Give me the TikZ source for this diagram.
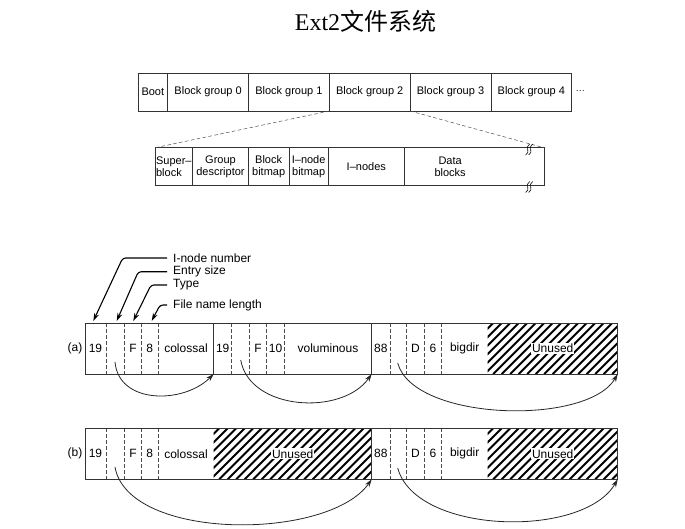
\documentclass[tikz,border=0pt]{standalone}
\usepackage{fontspec}
\setmainfont{Liberation Sans}
\newfontfamily\titlefont{Liberation Serif}
\newfontfamily\cjkfont{Noto Sans CJK SC}
\usetikzlibrary{arrows.meta,positioning,calc}

\tikzset{
  blk/.style={draw=black!80, line width=0.8pt, outer sep=0pt, inner sep=1pt, minimum height=38pt, font=\fontsize{11}{12}\selectfont, align=center},
  sub/.style={blk, minimum height=37.3pt},
  fld/.style={outer sep=0pt, inner sep=0pt, minimum height=51pt, font=\fontsize{12}{14}\selectfont},
  unused/.style={fld, path picture={
      \foreach \k in {-54,-45.5,...,160}
        \draw[line width=2pt] ($(path picture bounding box.south west)+(\k,0)$) -- ++(56,56);
    }},
  tag/.style={fill=white, inner sep=1pt, font=\fontsize{12}{14}\selectfont},
  sep/.style={dash pattern=on 3.5pt off 2.5pt, black!70, line width=0.5pt},
  rim/.style={draw=black!80, line width=0.9pt},
  jump/.style={-{Stealth[length=8pt,width=5pt]}, line width=0.8pt, black!85},
  lead/.style={-{Stealth[length=8pt,width=5pt]}, line width=1.1pt, rounded corners=3pt},
  note/.style={anchor=west, inner xsep=6pt, inner ysep=0pt, font=\fontsize{12}{14}\selectfont},
}

\begin{document}
\begin{tikzpicture}[x=1pt, y=1pt]
  \useasboundingbox (0,0) rectangle (685,-528);

  % title
  \node[font=\fontsize{24}{28}\selectfont] (title) at (365.5,-21) {\titlefont Ext2\cjkfont 文件系统};

  % disk layout
  \node[blk, minimum width=29.7pt, anchor=west] (boot) at (138,-92) {Boot};
  \node[blk, minimum width=80.8pt, right=0pt of boot] (bg0) {Block group 0};
  \node[blk, minimum width=80.8pt, right=0pt of bg0] (bg1) {Block group 1};
  \node[blk, minimum width=80.8pt, right=0pt of bg1] (bg2) {Block group 2};
  \node[blk, minimum width=80.8pt, right=0pt of bg2] (bg3) {Block group 3};
  \node[blk, minimum width=80.8pt, right=0pt of bg3] (bg4) {Block group 4};
  \node[right=4pt of bg4, inner sep=0pt, font=\fontsize{9}{10}\selectfont] (more) {···};

  % one block group
  \node[sub, minimum width=37.7pt, anchor=west, align=left] (sb) at (155,-166.4) {Super–\\block};
  \node[sub, minimum width=55.6pt, right=0pt of sb] (gd) {Group\\descriptor};
  \node[sub, minimum width=40.7pt, right=0pt of gd] (bb) {Block\\bitmap};
  \node[sub, minimum width=39.3pt, right=0pt of bb] (ib) {I–node\\bitmap};
  \node[sub, minimum width=76pt, right=0pt of ib] (in) {I–nodes};
  \node[sub, minimum width=139.7pt, right=0pt of in] (dat) {};
  \node[font=\fontsize{11}{12}\selectfont, align=center] (dtxt) at ($(dat.center)+(-24,0)$) {Data\\blocks};
  \draw[sep] (bg1.south east) -- (sb.north west);
  \draw[sep] (bg2.south east) -- (dat.north east);
  % break marks
  \foreach \y in {-149.5,-187}{
    \draw[line width=0.6pt] (529.7,\y+5.5) .. controls (524.2,\y+2) and (531.2,\y-2) .. (525.7,\y-5.5);
    \draw[line width=0.6pt] (532.7,\y+5.5) .. controls (527.2,\y+2) and (534.2,\y-2) .. (528.7,\y-5.5);
  }

  % (a) directory entries
  \node[fld, minimum width=21pt, anchor=west] (a1) at (85,-348.5) {19};
  \node[fld, minimum width=18.7pt, right=0pt of a1] (a2) {};
  \node[fld, minimum width=16.6pt, right=0pt of a2] (a3) {F};
  \node[fld, minimum width=17pt, right=0pt of a3] (a4) {8};
  \node[fld, minimum width=55.4pt, right=0pt of a4] (a5) {colossal};
  \node[fld, minimum width=18pt, right=0pt of a5] (a6) {19};
  \node[fld, minimum width=17.6pt, right=0pt of a6] (a7) {};
  \node[fld, minimum width=17.4pt, right=0pt of a7] (a8) {F};
  \node[fld, minimum width=17.6pt, right=0pt of a8] (a9) {10};
  \node[fld, minimum width=87.4pt, right=0pt of a9] (a10) {voluminous};
  \node[fld, minimum width=18.3pt, right=0pt of a10] (a11) {88};
  \node[fld, minimum width=16.7pt, right=0pt of a11] (a12) {};
  \node[fld, minimum width=17.6pt, right=0pt of a12] (a13) {D};
  \node[fld, minimum width=17.4pt, right=0pt of a13] (a14) {6};
  \node[fld, minimum width=46pt, right=0pt of a14] (a15) {bigdir};
  \node[unused, minimum width=130pt, right=0pt of a15] (a16) {};
  \node[tag] (a16t) at (a16.center) {Unused};
  \node[left=2.5pt of a1, inner sep=0pt, font=\fontsize{12}{14}\selectfont] (taga) {(a)};
  \foreach \c in {a1,a2,a3,a4,a6,a7,a8,a9,a11,a12,a13,a14}
    \draw[sep] (\c.north east) -- (\c.south east);
  \draw[rim] (a5.north east) -- (a5.south east);
  \draw[rim] (a10.north east) -- (a10.south east);
  \draw[rim] (a1.north west) rectangle (a16.south east);

  % (b) after removal
  \node[fld, minimum width=21pt, anchor=west] (b1) at (85,-453.8) {19};
  \node[fld, minimum width=18.7pt, right=0pt of b1] (b2) {};
  \node[fld, minimum width=16.6pt, right=0pt of b2] (b3) {F};
  \node[fld, minimum width=17pt, right=0pt of b3] (b4) {8};
  \node[fld, minimum width=55.4pt, right=0pt of b4] (b5) {colossal};
  \node[unused, minimum width=158pt, right=0pt of b5] (b6) {};
  \node[tag] (b6t) at (b6.center) {Unused};
  \node[fld, minimum width=18.3pt, right=0pt of b6] (b7) {88};
  \node[fld, minimum width=16.7pt, right=0pt of b7] (b8) {};
  \node[fld, minimum width=17.6pt, right=0pt of b8] (b9) {D};
  \node[fld, minimum width=17.4pt, right=0pt of b9] (b10) {6};
  \node[fld, minimum width=46pt, right=0pt of b10] (b11) {bigdir};
  \node[unused, minimum width=130pt, right=0pt of b11] (b12) {};
  \node[tag] (b12t) at (b12.center) {Unused};
  \node[left=2.5pt of b1, inner sep=0pt, font=\fontsize{12}{14}\selectfont] (tagb) {(b)};
  \foreach \c in {b1,b2,b3,b4,b7,b8,b9,b10}
    \draw[sep] (\c.north east) -- (\c.south east);
  \draw[rim] (b6.north east) -- (b6.south east);
  \draw[rim] (b1.north west) rectangle (b12.south east);

  % field names
  \node[note] (lino) at (167,-258) {I-node number};
  \node[note] (lsiz) at (167,-271.7) {Entry size};
  \node[note] (ltyp) at (167,-285) {Type};
  \node[note] (llen) at (167,-305) {File name length};
  \coordinate (tino) at (93.3,-321);
  \coordinate (tsiz) at (116.7,-321);
  \coordinate (ttyp) at (133.3,-321);
  \coordinate (tlen) at (151.7,-321);
  \draw[lead] (lino.west) -- ++(-44.3,0) -- (tino);
  \draw[lead] (lsiz.west) -- ++(-28.7,0) -- (tsiz);
  \draw[lead] (ltyp.west) -- ++(-16,0) -- (ttyp);
  \draw[lead] (llen.west) -- ++(-7,0) -- (tlen);

  % entry size pointers
  \coordinate (sa1) at (115,-362);
  \coordinate (sa2) at (240.7,-360);
  \coordinate (sa3) at (397.7,-363);
  \coordinate (sb1) at (115,-467);
  \coordinate (sb2) at (397.7,-468);
  \draw[jump] (sa1) to[out=-85, in=-135, looseness=1.1] (a5.south east);
  \draw[jump] (sa2) to[out=-80, in=-125, looseness=1] (a10.south east);
  \draw[jump] (sa3) to[out=-75, in=-120, looseness=0.7] (a16.south east);
  \draw[jump] (sb1) to[out=-80, in=-125, looseness=0.75] (b6.south east);
  \draw[jump] (sb2) to[out=-75, in=-120, looseness=0.8] (b12.south east);
\end{tikzpicture}
\end{document}
